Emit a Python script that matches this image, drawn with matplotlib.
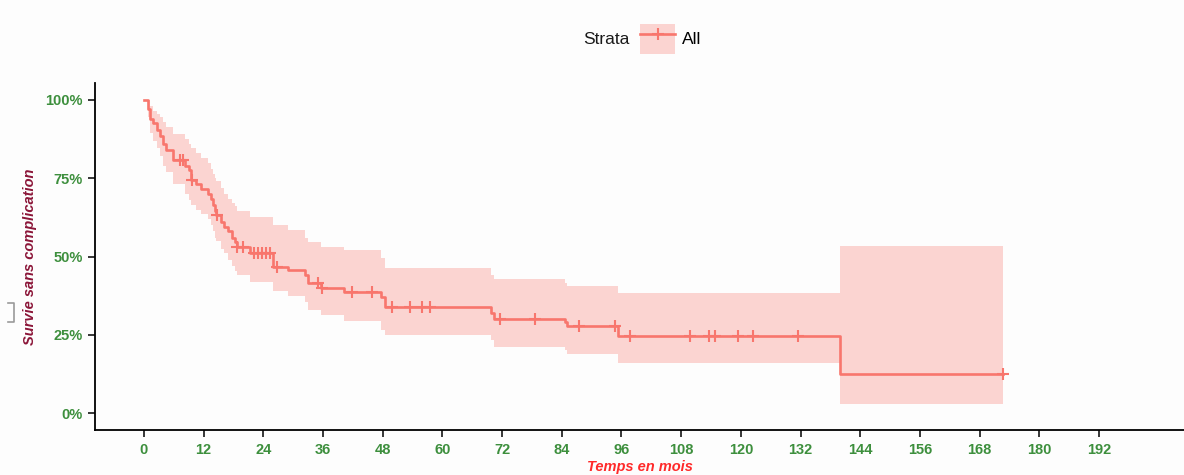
import numpy as np
import matplotlib
matplotlib.use("Agg")
import matplotlib.pyplot as plt
from matplotlib.lines import Line2D
from matplotlib.patches import Patch

plt.rcParams["font.family"] = ["Liberation Sans", "DejaVu Sans"]

# courbe de Kaplan-Meier (temps en mois)
event_t = [0, 0.9, 1.3, 1.9, 2.6, 3.2, 3.9, 4.5, 5.9, 8.2, 9.0, 9.4, 10.5, 11.5,
           12.8, 13.4, 13.8, 14.2, 14.5, 15.4, 16.0, 16.8, 17.6, 18.2, 18.6, 21.3,
           26.0, 29.0, 32.3, 32.9, 35.5, 40.3, 47.6, 48.4, 69.7, 70.3, 84.6, 85.1,
           95.4, 139.9, 172.8]
surv = [1.0, 0.97, 0.94, 0.925, 0.905, 0.885, 0.86, 0.84, 0.808, 0.79, 0.775, 0.745,
        0.73, 0.715, 0.70, 0.685, 0.665, 0.645, 0.633, 0.61, 0.595, 0.58, 0.56, 0.545,
        0.531, 0.512, 0.467, 0.457, 0.44, 0.415, 0.40, 0.388, 0.37, 0.34, 0.32, 0.30,
        0.29, 0.278, 0.247, 0.125, 0.125]
upper = [1.0, 1.0, 0.98, 0.965, 0.955, 0.945, 0.93, 0.915, 0.89, 0.875, 0.86, 0.845,
         0.83, 0.815, 0.80, 0.78, 0.765, 0.75, 0.74, 0.72, 0.70, 0.685, 0.67, 0.66,
         0.645, 0.625, 0.60, 0.585, 0.56, 0.545, 0.53, 0.52, 0.494, 0.462, 0.44, 0.428,
         0.415, 0.406, 0.384, 0.534, 0.534]
lower = [1.0, 0.945, 0.895, 0.87, 0.845, 0.82, 0.79, 0.77, 0.73, 0.70, 0.68, 0.665,
         0.65, 0.635, 0.62, 0.60, 0.58, 0.56, 0.55, 0.525, 0.51, 0.49, 0.47, 0.455,
         0.44, 0.42, 0.39, 0.375, 0.355, 0.33, 0.313, 0.295, 0.265, 0.249, 0.233, 0.212,
         0.20, 0.188, 0.16, 0.029, 0.029]
censor_t = [7.2, 7.8, 9.7, 14.6, 18.6, 19.9, 22.2, 23.0, 23.8, 24.6, 25.3, 26.7,
            35.0, 35.7, 41.8, 45.8, 49.8, 53.5, 55.8, 57.6, 71.6, 78.6, 87.4, 94.7,
            97.7, 109.8, 113.5, 114.8, 119.5, 122.5, 131.5, 172.8]
x_ticks = list(range(0, 193, 12))
y_ticks = [0, 0.25, 0.5, 0.75, 1.0]
y_labels = ["0%", "25%", "50%", "75%", "100%"]

col = "#F8766D"
green = "#3d8f3d"

W, H = 1184, 475
fig = plt.figure(figsize=(W / 100, H / 100), dpi=100)
fig.patch.set_facecolor("#fdfdfd")
ax = fig.add_axes([95 / W, (H - 430) / H, (W - 95) / W, 347 / H])
ax.set_facecolor("#fdfdfd")

ax.fill_between(event_t, lower, upper, step="post", color=col, alpha=0.3, lw=0)
ax.step(event_t, surv, where="post", color=col, lw=1.9)
# position des censures sur la courbe
idx = np.searchsorted(event_t, censor_t, side="right") - 1
censor_s = np.array(surv)[idx]
ax.plot(censor_t, censor_s, "+", color=col, ms=9, mew=1.5)

ax.set_xlim(-9.85, 209.1)
ax.set_ylim(-0.054, 1.054)
ax.set_xticks(x_ticks)
ax.set_yticks(y_ticks)
ax.set_yticklabels(y_labels)
for s in ["top", "right"]:
    ax.spines[s].set_visible(False)
for s in ["left", "bottom"]:
    ax.spines[s].set_linewidth(1.3)
ax.tick_params(length=5, width=1.1, color="black", labelsize=10.5,
               labelcolor=green, pad=4)
for lab in ax.get_xticklabels() + ax.get_yticklabels():
    lab.set_fontweight("bold")

fig.text(640 / W, 1 - 467 / H, "Temps en mois", ha="center", va="center",
         fontsize=10.5, fontstyle="italic", fontweight="bold", color="#ff2a2a")
fig.text(30 / W, 1 - 257 / H, "Survie sans complication", ha="center", va="center",
         rotation=90, fontsize=10.5, fontstyle="italic", fontweight="bold",
         color="#8b1538")

# légende en haut
fig.text(583 / W, 1 - 39 / H, "Strata", ha="left", va="center", fontsize=12.5,
         color="#1a1a1a")
handle = (Patch(facecolor=col, alpha=0.3, lw=0),
          Line2D([], [], color=col, lw=1.9, marker="+", ms=9, mew=1.5))
fig.legend([handle], ["All"], loc="center left", bbox_to_anchor=(628 / W, 1 - 39 / H),
           frameon=False, fontsize=12.5, handlelength=2.0, handleheight=2.2,
           handletextpad=0.4, borderpad=0.2)

# petit crochet gris à gauche
fig.add_artist(Line2D([8 / W, 14 / W, 14 / W, 8 / W],
                      [1 - 303 / H, 1 - 303 / H, 1 - 322 / H, 1 - 322 / H],
                      color="#9a9a9a", lw=1.2, transform=fig.transFigure))

fig.savefig("out.png", dpi=100, facecolor=fig.get_facecolor())
